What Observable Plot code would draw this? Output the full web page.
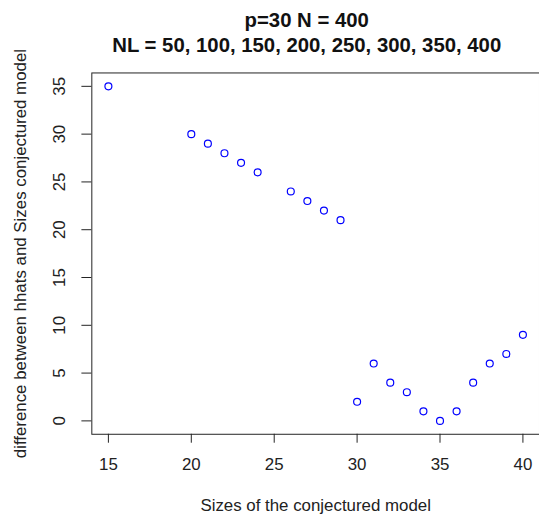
<!DOCTYPE html>
<html>
<head>
<meta charset="utf-8">
<script src="https://cdn.jsdelivr.net/npm/d3@7"></script>
<script src="https://cdn.jsdelivr.net/npm/@observablehq/plot@0.6"></script>
<style>
  html, body { margin: 0; padding: 0; background: white; overflow: hidden; }
</style>
</head>
<body>
<div id="chart"></div>
<script>
const sizes = [15, 20, 21, 22, 23, 24, 26, 27, 28, 29, 30, 31, 32, 33, 34, 35, 36, 37, 38, 39, 40];
const diffs = [35, 30, 29, 28, 27, 26, 24, 23, 22, 21, 2, 6, 4, 3, 1, 0, 1, 4, 6, 7, 9];
const xTicks = [15, 20, 25, 30, 35, 40];
const yTicks = [0, 5, 10, 15, 20, 25, 30, 35];
const titleLines = ["p=30 N = 400", "NL = 50, 100, 150, 200, 250, 300, 350, 400"];
const xLabel = "Sizes of the conjectured model";
const yLabel = "difference between hhats and Sizes conjectured model";

const data = sizes.map((s, i) => ({size: s, diff: diffs[i]}));
const font = "Liberation Sans, Arial, Helvetica, sans-serif";

const chart = Plot.plot({
  width: 543,
  height: 520,
  marginLeft: 92,
  marginRight: 0,
  marginTop: 73,
  marginBottom: 83,
  x: {domain: [14, 41]},
  y: {domain: [-1.4, 36.4]},
  style: {fontFamily: font, fontSize: "17px", background: "white", color: "#222"},
  marks: [
    Plot.frame({stroke: "#222", strokeWidth: 1}),
    Plot.axisX({ticks: xTicks, tickSize: 9, tickFormat: () => "", label: null, stroke: "#222"}),
    Plot.axisY({ticks: yTicks, tickSize: 10, tickFormat: () => "", label: null, stroke: "#222"}),
    Plot.text(xTicks, {x: d => d, frameAnchor: "bottom", dy: 31, lineAnchor: "middle", fontSize: 17, fill: "#222"}),
    Plot.text(yTicks, {y: d => d, frameAnchor: "left", dx: -32, rotate: -90, textAnchor: "middle", lineAnchor: "middle", fontSize: 17, fill: "#222"}),
    Plot.text([xLabel], {text: d => d, frameAnchor: "bottom", dy: 72, lineAnchor: "middle", fontSize: 17, fill: "#222"}),
    Plot.text([yLabel], {text: d => d, frameAnchor: "left", dx: -72, rotate: -90, textAnchor: "middle", lineAnchor: "middle", fontSize: 17, fill: "#222"}),
    Plot.text([titleLines[0]], {text: d => d, frameAnchor: "top", dy: -53, dx: -9, lineAnchor: "middle", fontSize: 20.5, fontWeight: "bold", fill: "#111"}),
    Plot.text([titleLines[1]], {text: d => d, frameAnchor: "top", dy: -28, dx: -9, lineAnchor: "middle", fontSize: 20.5, fontWeight: "bold", fill: "#111"}),
    Plot.dot(data, {x: "size", y: "diff", r: 3.5, stroke: "blue", strokeWidth: 1.2, fill: "none"})
  ]
});
document.getElementById("chart").appendChild(chart);
</script>
</body>
</html>
